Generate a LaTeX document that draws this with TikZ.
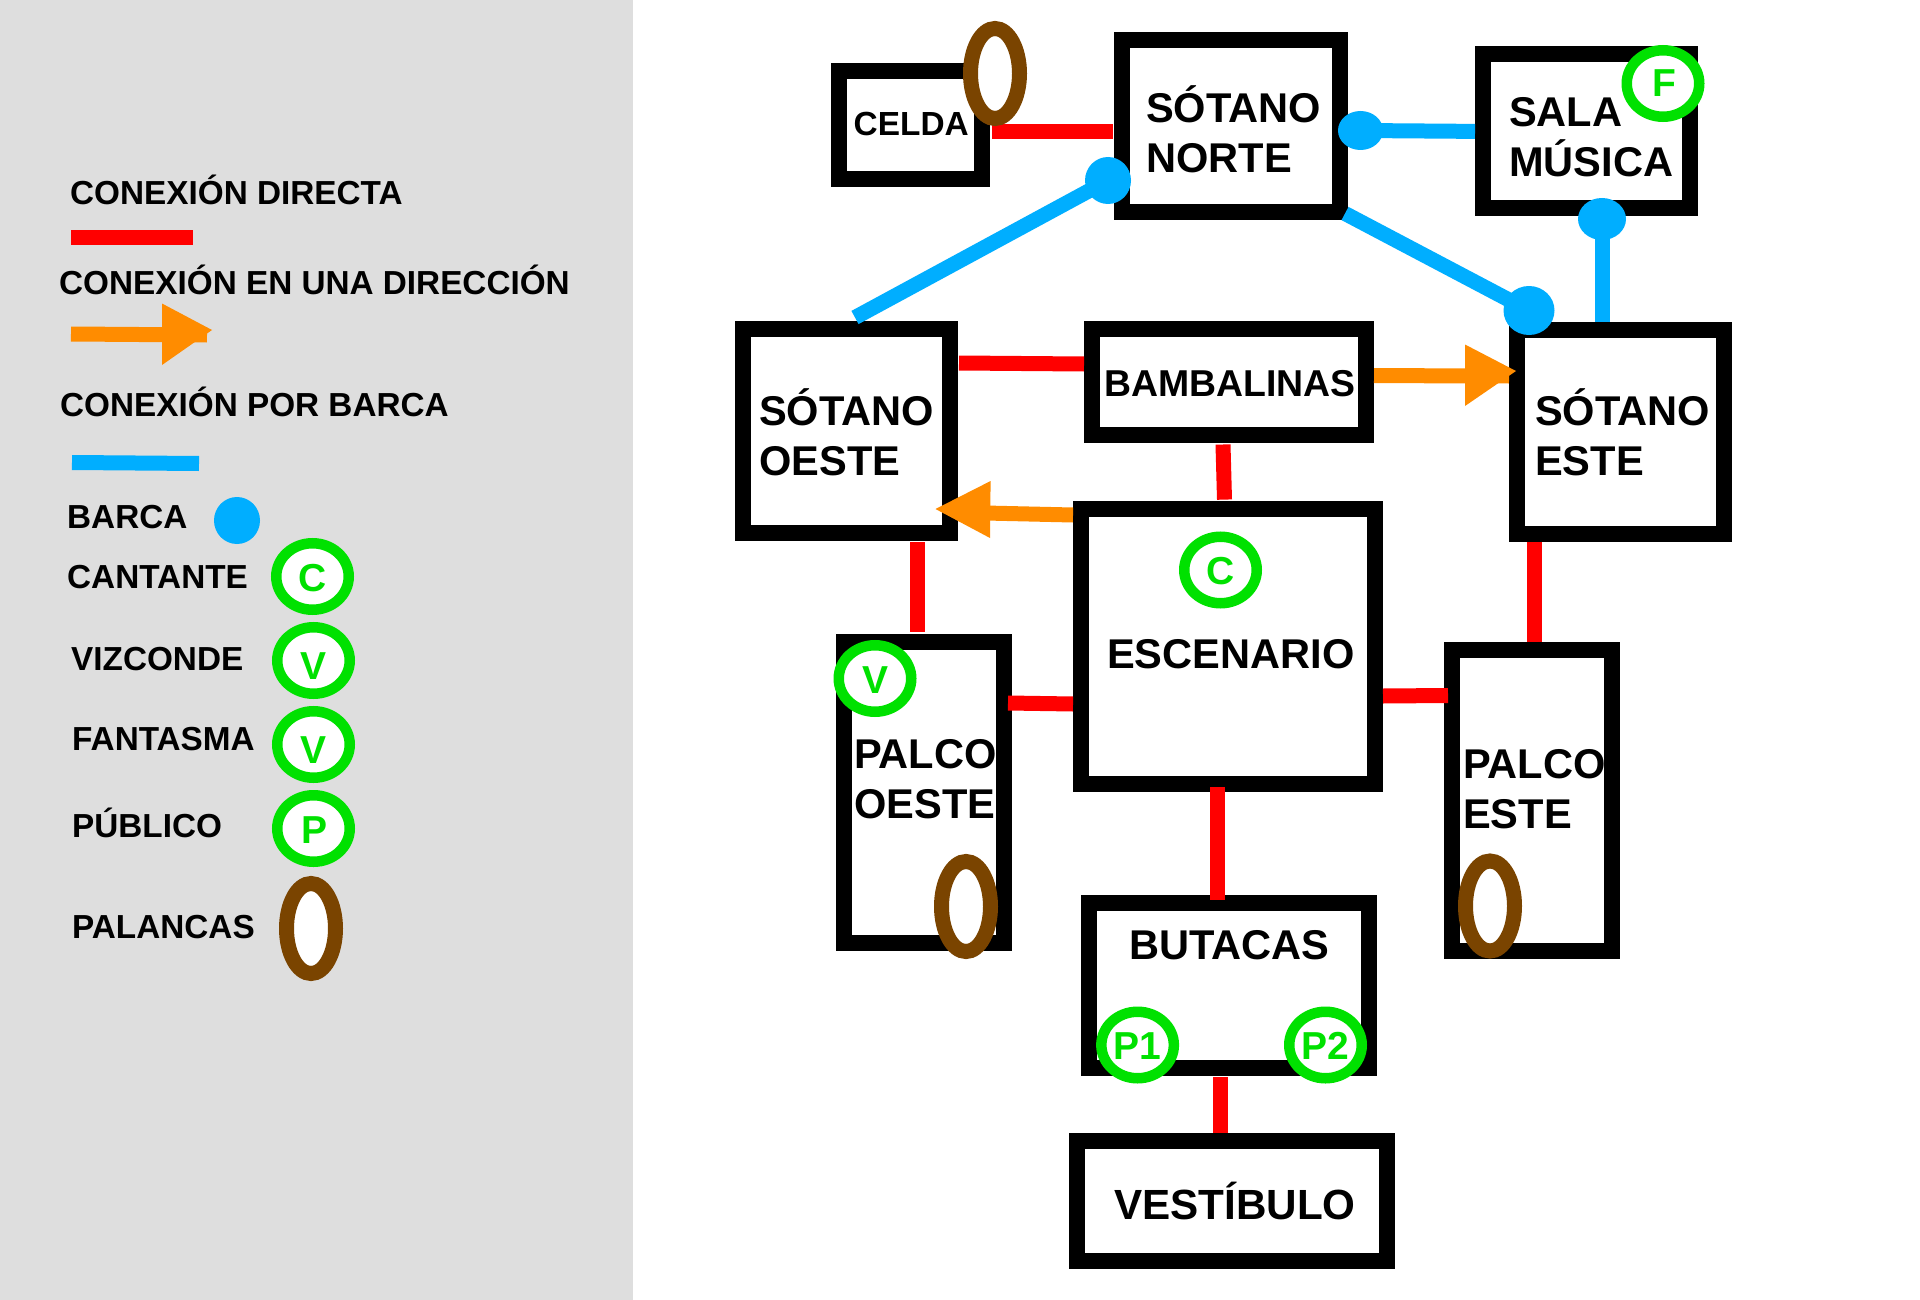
\documentclass[tikz,border=0pt]{standalone}
\usepackage{fontspec}
\setmainfont{Liberation Sans}
\usetikzlibrary{shapes.geometric}
\definecolor{panelgray}{HTML}{DEDEDE}
\definecolor{conred}{HTML}{FF0000}
\definecolor{conblue}{HTML}{00AEFF}
\definecolor{conorange}{HTML}{FF8C00}
\definecolor{ringgreen}{HTML}{00E100}
\definecolor{leverbrown}{HTML}{7A4400}
\tikzset{
  room/.style n args={2}{draw=black,fill=white,line width=16pt,rectangle,inner sep=0pt,minimum width=#1,minimum height=#2,anchor=north west},
  roomtext/.style={font=\fontsize{41.6}{50.3}\selectfont\bfseries,inner sep=0pt,anchor=base west,align=left,text=black},
  legendtext/.style={font=\fontsize{33.3}{38}\selectfont\bfseries,inner sep=0pt,anchor=base west,text=black},
  direct/.style={draw=conred,line width=15pt},
  oneway/.style={draw=conorange,line width=15pt},
  boat/.style={draw=conblue,line width=15pt},
  headfill/.style={fill=conorange},
  barca/.style n args={2}{ellipse,fill=conblue,inner sep=0pt,minimum width=#1,minimum height=#2},
  ring/.style={ellipse,draw=ringgreen,fill=white,line width=10.5pt,inner sep=0pt,minimum width=72.5pt,minimum height=66.5pt,text=ringgreen,font=\fontsize{39}{39}\selectfont\bfseries,text height=29pt,text depth=0pt},
  lever/.style={ellipse,draw=leverbrown,fill=white,line width=15pt,inner sep=0pt,minimum width=49pt,minimum height=90pt}
}
\begin{document}
\begin{tikzpicture}[x=1pt,y=-1pt]
\useasboundingbox (0,0) rectangle (1920,1300);
\fill[white] (0,0) rectangle (1920,1300);
\fill[panelgray] (0,0) rectangle (633,1300);

% rooms (outer box minus line width)
\node[room={143pt}{107.6pt}] (celda) at (831,63) {};
\node[room={218pt}{172pt}] (norte) at (1114,32) {};
\node[room={207pt}{154pt}] (sala) at (1475,46) {};
\node[room={207pt}{204pt}] (oeste) at (735,321) {};
\node[room={274pt}{106pt}] (bamb) at (1084,321) {};
\node[room={207pt}{204pt}] (este) at (1509,322) {};
\node[room={294pt}{275pt}] (esc) at (1073,501) {};
\node[room={160pt}{301pt}] (palcoo) at (836,634) {};
\node[room={160pt}{301pt}] (palcoe) at (1444,642) {};
\node[room={280pt}{165pt}] (but) at (1081,895) {};
\node[room={310pt}{120pt}] (vest) at (1069,1133) {};

% room labels
\node[roomtext,font=\fontsize{33.4}{40}\selectfont\bfseries] (tcelda) at (853.5,135.5) {CELDA};
\node[roomtext] (tnorte) at (1146,173) {SÓTANO\\NORTE};
\node[roomtext] (tsala) at (1509,176.5) {SALA\\MÚSICA};
\node[roomtext] (toeste) at (759,475.5) {SÓTANO\\OESTE};
\node[roomtext,font=\fontsize{37.4}{44}\selectfont\bfseries] (tbamb) at (1104,396) {BAMBALINAS};
\node[roomtext] (teste) at (1535,475.5) {SÓTANO\\ESTE};
\node[roomtext] (tesc) at (1107,668) {ESCENARIO};
\node[roomtext] (tpo) at (854,818.5) {PALCO\\OESTE};
\node[roomtext] (tpe) at (1463,828.5) {PALCO\\ESTE};
\node[roomtext] (tbut) at (1129,959) {BUTACAS};
\node[roomtext,font=\fontsize{42.2}{50}\selectfont\bfseries] (tvest) at (1114,1219.5) {VESTÍBULO};

% barcas
\node[barca={46pt}{47pt}] (bnw) at (1108,180.5) {};
\node[barca={45pt}{39pt}] (bne) at (1360.5,130.5) {};
\node[barca={48pt}{42pt}] (bsala) at (1602,219) {};
\node[barca={51pt}{49pt}] (beste) at (1529,310.5) {};

% free ends
\coordinate (oesteEnd) at (855,317.5);
\coordinate (norteEnd) at (1345,213.5);

% direct connections
\draw[direct] ([xshift=2pt]celda.east |- 0,132) -- ([xshift=-1pt]norte.west |- 0,132);
\draw[direct] ([xshift=1pt]oeste.east |- 0,363) -- (bamb.west |- 0,364);
\draw[direct] (1223,444.5) -- (1224.5,499.6);
\draw[direct] (917,542) -- (917,632);
\draw[direct] (1534.5,542) -- (1534.5,642);
\draw[direct] (1008,703) -- (esc.west |- 0,704);
\draw[direct] (esc.east |- 0,696) -- (1448,695.5);
\draw[direct] (1217,787) -- (1217,900);
\draw[direct] (1220,1077) -- (1220,1133);

% boat connections
\draw[boat] (oesteEnd) -- (bnw.center);
\draw[boat] (norteEnd) -- (beste.center);
\draw[boat] (bne.center) -- (sala.west |- 0,131.4);
\draw[boat] (bsala.center) -- (este.north -| bsala.center);

% one-way connections
\draw[oneway] (bamb.east |- 0,375.6) -- (este.west |- 0,376);
\fill[headfill] (1465,344.5) -- (1516,371) -- (1465,406) -- cycle;
\draw[oneway] (esc.west |- 0,515) -- (985,513);
\fill[headfill] (990.6,481) -- (935.5,509) -- (990,538) -- cycle;

% legend
\node[legendtext] (l1) at (70,204.5) {CONEXIÓN DIRECTA};
\node[legendtext] (l2) at (59,294.5) {CONEXIÓN EN UNA DIRECCIÓN};
\node[legendtext] (l3) at (60,416.5) {CONEXIÓN POR BARCA};
\node[legendtext] (l4) at (67,528) {BARCA};
\node[legendtext] (l5) at (67,588) {CANTANTE};
\node[legendtext] (l6) at (71,670.5) {VIZCONDE};
\node[legendtext] (l7) at (72,750.5) {FANTASMA};
\node[legendtext] (l8) at (72,837) {PÚBLICO};
\node[legendtext] (l9) at (72,938) {PALANCAS};
\coordinate (redA) at (71,237.5);
\coordinate (redB) at (193,237.5);
\draw[direct] (redA) -- (redB);
\coordinate (orA) at (71,334);
\coordinate (orB) at (207,335);
\draw[oneway] (orA) -- (orB);
\fill[headfill] (162,303.5) -- (212,330) -- (162,365) -- cycle;
\coordinate (blA) at (72,462.5);
\coordinate (blB) at (199,463.5);
\draw[boat] (blA) -- (blB);
\node[barca={46pt}{47pt}] (lbarca) at (237,520.5) {};
\node[ring] (lc) at (312.5,576.5) {C};
\node[ring] (lv) at (313.5,660.5) {\raisebox{-4pt}{V}};
\node[ring] (lf) at (313.5,744.5) {\raisebox{-4pt}{V}};
\node[ring] (lp) at (313.5,828.5) {\hspace*{2pt}P};
\node[lever] (lpal) at (311,928.5) {};

% tokens
\node[ring] (rc) at (1220.5,570) {C};
\node[ring] (rv) at (875,678.5) {V};
\node[ring] (rf) at (1663,83.5) {\hspace*{2pt}\raisebox{1pt}{F}};
\node[ring] (rp1) at (1137.6,1045) {P1};
\node[ring] (rp2) at (1325.5,1045) {P2};
\node[lever] (pcelda) at (995,73.5) {};
\node[lever] (ppo) at (966,906.5) {};
\node[lever] (ppe) at (1490,906) {};
\end{tikzpicture}
\end{document}
